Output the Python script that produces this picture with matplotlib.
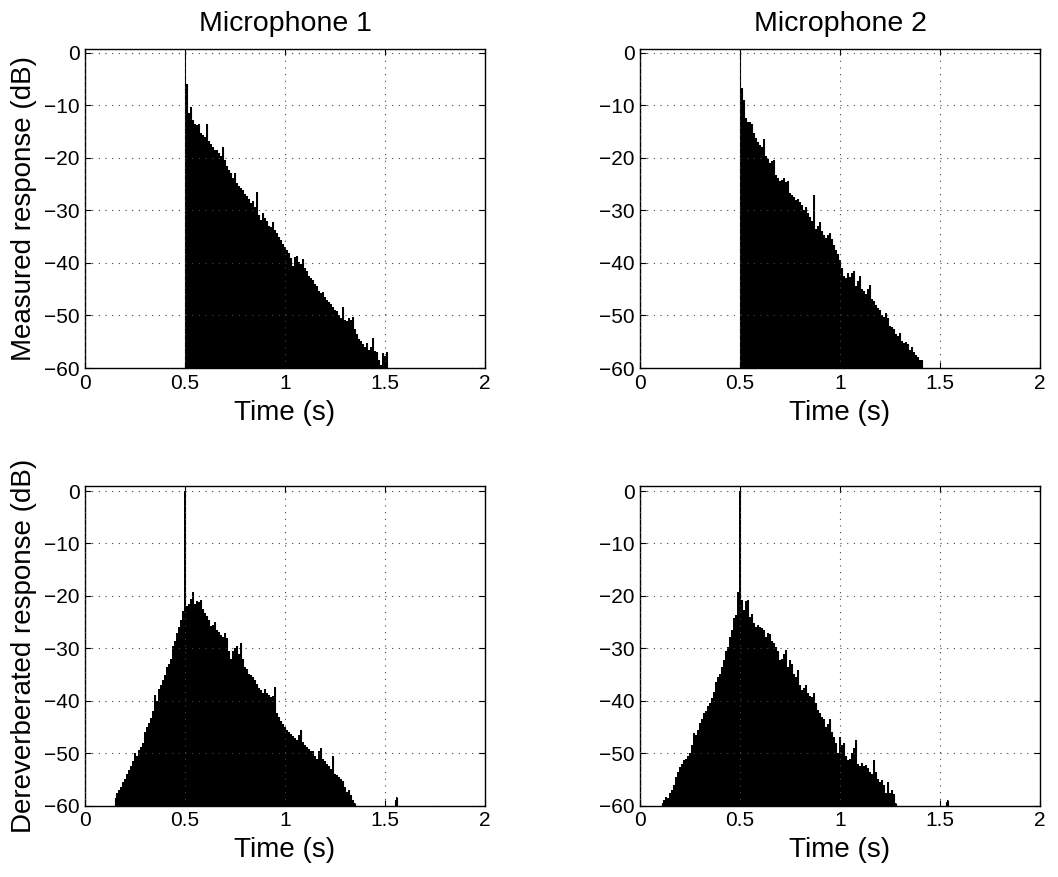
import numpy as np
import matplotlib
matplotlib.use("Agg")
import matplotlib.pyplot as plt

plt.rcParams['font.family'] = ['Liberation Sans', 'DejaVu Sans']

# ---------------- data (peak envelope in dB, 0.01 s steps) ----------------
step = 0.01

# Measured, microphone 1 (starts at 0.50 s)
m1_start = 0.50
m1_db = [0.0, -6.0, -11.5, -10.3, -12.8, -13.5, -13.8, -13.6, -15.2, -15.6,
         -16.0, -13.5, -16.8, -17.3, -18.0, -18.6, -18.5, -19.0, -19.6, -17.9,
         -20.5, -21.5, -22.3, -22.8, -23.8, -22.8, -24.8, -25.3, -25.8, -26.2,
         -26.8, -27.3, -27.8, -28.6, -28.2, -29.3, -26.6, -30.8, -31.8, -30.5,
         -31.5, -32.0, -32.9, -33.2, -32.3, -33.8, -34.4, -35.0, -35.6, -36.4,
         -37.0, -37.6, -38.2, -39.0, -40.5, -38.8, -38.6, -39.8, -40.3, -39.2,
         -41.0, -41.6, -42.4, -42.8, -43.2, -44.0, -44.3, -45.3, -45.8, -45.5,
         -46.5, -47.0, -47.5, -47.8, -48.3, -49.0, -49.2, -50.0, -50.5, -48.3,
         -50.8, -51.0, -50.5, -50.8, -50.3, -52.5, -53.5, -54.5, -54.8, -55.5,
         -56.0, -55.3, -56.5, -56.0, -54.2, -56.8, -57.0, -58.5, -59.5, -57.2,
         -57.8, -57.0, -60.0]

# Measured, microphone 2 (starts at 0.50 s)
m2_start = 0.50
m2_db = [0.0, -6.8, -9.0, -12.5, -13.1, -13.1, -13.5, -15.2, -16.3, -17.0,
         -17.6, -18.0, -16.5, -19.6, -20.3, -21.0, -20.6, -20.4, -23.2, -23.8,
         -24.5, -24.2, -23.8, -24.6, -24.5, -26.7, -27.0, -27.4, -28.0, -27.8,
         -28.4, -29.0, -29.9, -29.4, -30.5, -31.2, -32.0, -27.0, -33.5, -33.0,
         -32.3, -34.0, -34.6, -35.3, -34.6, -34.4, -35.5, -36.6, -37.6, -38.4,
         -39.4, -41.0, -42.4, -42.8, -42.0, -42.6, -42.0, -41.5, -44.3, -43.5,
         -42.5, -45.0, -45.3, -46.0, -45.0, -44.2, -46.8, -47.3, -48.0, -48.5,
         -49.0, -50.0, -50.3, -49.6, -50.5, -52.0, -52.2, -52.6, -53.5, -54.0,
         -53.4, -54.8, -55.3, -55.0, -55.5, -56.5, -56.0, -57.0, -57.5, -58.0,
         -58.5, -58.5, -60.0]

# Dereverberated, microphone 1 (starts at 0.15 s)
d1_start = 0.15
d1_db = [-58.5, -57.5, -57.0, -56.5, -55.5, -55.0, -54.0, -53.2, -52.5, -51.5,
         -50.0, -50.5, -49.4, -48.8, -48.0, -46.0, -45.0, -44.2, -43.3, -42.0,
         -38.8, -40.0, -37.8, -37.0, -36.0, -35.0, -33.5, -33.0, -32.0, -29.5,
         -28.5, -27.0, -26.0, -24.5, -22.8, 0.0, -22.0, -21.5, -20.5, -19.3,
         -21.5, -21.0, -21.2, -20.8, -22.5, -23.3, -23.8, -24.5, -25.8, -25.5,
         -25.0, -26.5, -26.8, -27.5, -27.8, -27.0, -28.0, -30.5, -32.0, -30.5,
         -30.0, -29.5, -31.0, -29.0, -32.0, -33.5, -34.0, -34.8, -35.0, -35.4,
         -36.0, -36.8, -37.5, -38.0, -38.5, -37.8, -38.5, -38.8, -39.2, -39.0,
         -37.3, -42.4, -43.0, -43.8, -44.5, -45.0, -45.6, -46.0, -46.3, -46.8,
         -47.0, -47.5, -46.5, -45.6, -47.8, -48.5, -48.8, -49.2, -49.5, -49.5,
         -50.5, -51.0, -49.5, -49.0, -51.0, -51.5, -52.0, -52.5, -53.0, -50.5,
         -54.0, -54.2, -54.5, -55.0, -55.2, -56.5, -57.3, -57.0, -58.0, -59.0,
         -59.5]
d1_blip_t = [1.55, 1.56]
d1_blip_db = [-59.0, -58.3]

# Dereverberated, microphone 2 (starts at 0.11 s)
d2_start = 0.11
d2_db = [-59.5, -59.0, -58.3, -58.5, -57.5, -57.0, -56.0, -54.5, -53.5, -52.6,
         -52.0, -51.3, -51.0, -50.5, -50.0, -48.5, -46.2, -46.5, -45.5, -44.3,
         -43.5, -42.4, -42.0, -41.0, -40.5, -39.5, -38.3, -36.5, -35.4, -34.8,
         -33.5, -32.2, -30.5, -29.7, -27.8, -26.5, -24.3, -23.6, -19.2, 0.0,
         -20.8, -22.7, -21.0, -20.8, -24.0, -23.5, -25.2, -25.9, -25.5, -25.9,
         -26.2, -26.5, -27.8, -27.0, -27.3, -28.5, -29.0, -29.8, -30.5, -32.2,
         -32.0, -31.0, -30.3, -33.5, -32.2, -33.0, -34.8, -35.5, -34.1, -37.0,
         -38.0, -37.6, -37.0, -38.6, -39.0, -39.2, -38.6, -40.5, -41.8, -42.4,
         -43.0, -43.5, -45.0, -44.5, -43.5, -46.0, -46.9, -48.0, -50.0, -46.9,
         -48.5, -48.1, -50.5, -51.3, -51.0, -50.0, -49.0, -47.5, -52.0, -52.5,
         -51.9, -52.5, -52.2, -52.8, -53.5, -54.0, -51.3, -53.5, -55.0, -55.5,
         -55.1, -56.0, -57.5, -55.5, -57.5, -57.0, -57.8, -59.5]
d2_blip_t = [1.53, 1.54]
d2_blip_db = [-59.2, -59.0]

titles = ["Microphone 1", "Microphone 2"]
ylabels = ["Measured response (dB)", "Dereverberated response (dB)"]
xticks = [0, 0.5, 1, 1.5, 2]
xticklabels = ["0", "0.5", "1", "1.5", "2"]
yticks = [0, -10, -20, -30, -40, -50, -60]
yticklabels = ["0", "\u221210", "\u221220", "\u221230", "\u221240", "\u221250", "\u221260"]

# ---------------- figure ----------------
fig = plt.figure(figsize=(10.58, 8.77), dpi=100)
W, H = 1058, 877
lefts = [85, 640]
rows = [(49.3, 368.0, 0.65), (485.8, 805.7, 1.0)]   # top px, bottom px, ylim top

panels = [
    [(m1_start, m1_db, None, None), (m2_start, m2_db, None, None)],
    [(d1_start, d1_db, d1_blip_t, d1_blip_db), (d2_start, d2_db, d2_blip_t, d2_blip_db)],
]

for r, (top, bot, ytop) in enumerate(rows):
    for c, left in enumerate(lefts):
        ax = fig.add_axes([left / W, 1 - bot / H, 400 / W, (bot - top) / H])
        start, vals, bt, bv = panels[r][c]
        vals = np.asarray(vals)
        t = start + step * np.arange(len(vals))
        ax.fill_between(t, -60, vals, step='mid', color='k', linewidth=0)
        ax.vlines(t, -60, vals, color='k', linewidth=0.8)
        if bt is not None:
            ax.fill_between(bt, -60, bv, step='mid', color='k', linewidth=0)
            ax.vlines(bt, -60, bv, color='k', linewidth=0.8)
        ax.set_xlim(0, 2)
        ax.set_ylim(-60, ytop)
        ax.set_xticks(xticks)
        ax.set_xticklabels(xticklabels)
        ax.set_yticks(yticks)
        ax.set_yticklabels(yticklabels)
        ax.grid(True, color='#444444', linestyle=(0, (1, 5)), linewidth=0.8)
        ax.set_axisbelow(False)
        ax.tick_params(direction='in', length=4, width=0.8, top=True, right=True,
                       labelsize=15, pad=4, colors='k')
        for s in ax.spines.values():
            s.set_linewidth(1.0)
            s.set_color('k')
        ax.set_xlabel("Time (s)", fontsize=20, labelpad=5)
        if r == 0:
            ax.set_title(titles[c], fontsize=20.5, pad=13)
        if c == 0:
            ax.set_ylabel(ylabels[r], fontsize=20, labelpad=5)

fig.savefig("out.png", dpi=100, facecolor='white')
